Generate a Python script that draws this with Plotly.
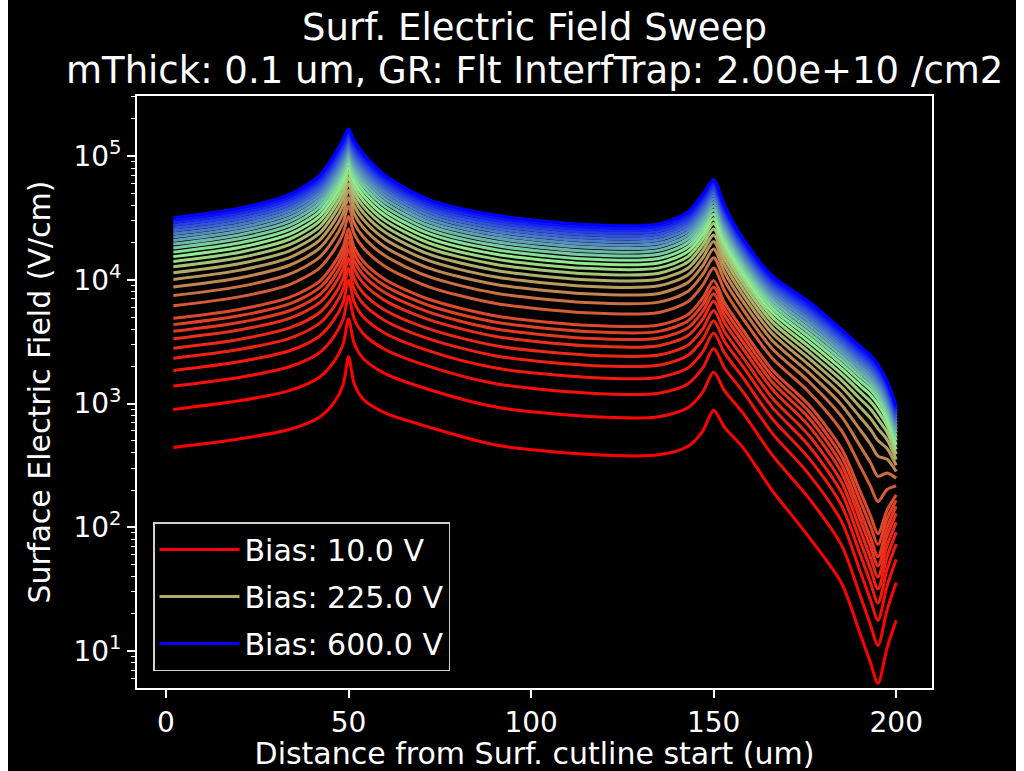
import plotly.graph_objects as go
from plotly.colors import sample_colorscale

# ---------------- data ----------------
x_um = [2, 20, 34, 42, 46, 48.5, 50, 51.5, 54, 60, 72, 90, 115, 135, 143, 147,
        150, 153, 158, 166, 176, 185, 190, 193, 195, 197.5, 200]

bias_V = [10, 20, 30, 40, 50, 60, 70, 80, 90, 100, 125, 150, 175, 200, 225, 250,
          275, 300, 325, 350, 375, 400, 425, 450, 475, 500, 525, 550, 575, 600]

E_010 = [442, 517, 619, 774, 1017, 1414, 2387, 1459, 1083, 840, 645, 464, 389, 385, 451, 597, 884, 641, 442, 198.9, 84.0, 35.4, 14.1, 7.96, 5.48, 10.6, 17.7]
E_020 = [896, 1051, 1276, 1630, 2179, 3014, 4808, 3080, 2308, 1745, 1299, 941, 788, 782, 928, 1238, 1796, 1267, 839, 384.6, 173, 71.7, 28.7, 16.1, 11.1, 21.5, 35.8]
E_030 = [1383, 1625, 1990, 2574, 3476, 4791, 7394, 4868, 3671, 2733, 1997, 1452, 1217, 1210, 1447, 1938, 2777, 1927, 1247, 577, 270, 111.6, 45.2, 25.6, 17.7, 33.6, 55.0]
E_040 = [1850, 2176, 2681, 3498, 4758, 6543, 9862, 6625, 5014, 3694, 2662, 1943, 1628, 1624, 1948, 2618, 3719, 2551, 1623, 757, 364, 150.6, 61.8, 35.3, 24.5, 45.7, 73.1]
E_050 = [2320, 2731, 3380, 4443, 6076, 8338, 12345, 8417, 6389, 4670, 3332, 2436, 2042, 2039, 2455, 3306, 4668, 3174, 1994, 935, 458, 190.7, 79.1, 45.6, 31.8, 58.0, 91.2]
E_060 = [2800, 3296, 4099, 5415, 7442, 10198, 14874, 10270, 7815, 5673, 4012, 2940, 2464, 2464, 2976, 4015, 5636, 3805, 2365, 1114, 556, 232, 97.4, 56.6, 39.6, 71.1, 109.5]
E_070 = [3330, 3923, 4892, 6497, 8961, 12261, 17662, 12324, 9397, 6783, 4765, 3497, 2930, 2934, 3550, 4802, 6707, 4500, 2773, 1312, 663, 278, 118.5, 69.3, 48.7, 85.6, 129.5]
E_080 = [3830, 4516, 5645, 7530, 10418, 14240, 20288, 14286, 10916, 7840, 5473, 4022, 3370, 3378, 4098, 5546, 7717, 5150, 3149, 1495, 766, 323, 139.0, 82.0, 57.9, 100.0, 147.8]
E_090 = [4340, 5117, 6419, 8589, 11918, 16275, 22967, 16301, 12478, 8923, 6193, 4557, 3819, 3828, 4657, 6310, 8749, 5811, 3528, 1680, 870, 376, 168.0, 101.5, 72.5, 118.0, 164.9]
E_100 = [4880, 5758, 7232, 9711, 13513, 18437, 25801, 18442, 14132, 10067, 6959, 5124, 4294, 4309, 5246, 7120, 9843, 6510, 3929, 1876, 981, 432, 199.1, 122.7, 88.6, 137.4, 182.7]
E_125 = [6163, 7272, 9189, 12418, 17380, 23666, 32516, 23598, 18144, 12819, 8770, 6471, 5423, 5448, 6662, 9060, 12437, 8154, 4858, 2333, 1246, 603, 317, 213, 161.0, 202, 216]
E_150 = [7454, 8803, 11159, 15176, 21326, 28996, 39260, 28847, 22235, 15601, 10585, 7827, 6560, 6597, 8088, 11024, 15057, 9799, 5777, 2787, 1513, 786, 459, 330, 258, 275, 249]
E_175 = [8756, 10350, 13160, 17976, 25366, 34446, 46048, 34201, 26417, 18431, 12416, 9194, 7705, 7758, 9535, 13020, 17696, 11446, 6687, 3239, 1784, 979, 619, 468, 376, 354, 282]
E_200 = [10069, 11902, 15184, 20833, 29492, 40004, 52892, 39642, 30680, 21296, 14258, 10572, 8861, 8931, 10995, 15043, 20360, 13098, 7592, 3690, 2059, 1172, 782, 614, 502, 433, 316]
E_225 = [11387, 13471, 17229, 23719, 33671, 45628, 59748, 45149, 34992, 24186, 16101, 11956, 10021, 10100, 12469, 17081, 23036, 14748, 8491, 4140, 2334, 1362, 943, 758, 627, 510, 352]
E_250 = [12714, 15041, 19287, 26636, 37900, 51326, 66660, 50716, 39363, 27106, 17965, 13350, 11188, 11290, 13960, 19135, 25720, 16406, 9389, 4590, 2614, 1547, 1098, 898, 748, 585, 388]
E_275 = [14047, 16632, 21351, 29583, 42197, 57087, 73578, 56343, 43785, 30047, 19820, 14749, 12361, 12474, 15452, 21211, 28431, 18063, 10282, 5039, 2894, 1732, 1252, 1035, 868, 660, 424]
E_300 = [15383, 18213, 23444, 32550, 46549, 62932, 80515, 62024, 48272, 33012, 21690, 16152, 13537, 13675, 16952, 23290, 31151, 19718, 11165, 5484, 3177, 1914, 1400, 1168, 983, 734, 463]
E_325 = [16727, 19805, 25542, 35562, 50934, 68815, 87482, 67761, 52790, 35997, 23568, 17563, 14720, 14870, 18467, 25392, 33872, 21380, 12052, 5931, 3461, 2091, 1539, 1288, 1087, 803, 502]
E_350 = [18072, 21415, 27632, 38566, 55355, 74746, 94444, 73535, 57342, 38999, 25445, 18976, 15903, 16066, 19988, 27506, 36614, 23038, 12931, 6376, 3745, 2259, 1663, 1392, 1175, 867, 542]
E_375 = [19421, 23014, 29753, 41619, 59836, 80714, 101436, 79335, 61934, 42008, 27325, 20392, 17090, 17285, 21518, 29636, 39347, 24696, 13805, 6819, 4032, 2428, 1787, 1495, 1262, 932, 583]
E_400 = [20777, 24621, 31872, 44691, 64346, 86765, 108456, 85207, 66569, 45045, 29212, 21816, 18284, 18492, 23062, 31768, 42115, 26358, 14677, 7264, 4320, 2597, 1911, 1600, 1351, 997, 623]
E_425 = [22137, 26254, 34025, 47772, 68890, 92865, 115489, 91116, 71237, 48104, 31102, 23244, 19481, 19702, 24594, 33914, 44872, 28019, 15549, 7706, 4609, 2767, 2037, 1705, 1439, 1063, 664]
E_450 = [23499, 27870, 36165, 50875, 73481, 98978, 122524, 97051, 75949, 51157, 32993, 24674, 20679, 20938, 26154, 36071, 47656, 29682, 16416, 8147, 4900, 2937, 2162, 1809, 1527, 1128, 705]
E_475 = [24867, 29492, 38320, 53986, 78082, 105138, 129582, 103024, 80669, 54260, 34888, 26110, 21883, 22157, 27702, 38245, 50430, 31350, 17285, 8592, 5192, 3108, 2288, 1915, 1616, 1194, 746]
E_500 = [26235, 31115, 40481, 57114, 82719, 111315, 136658, 109006, 85421, 57350, 36808, 27547, 23087, 23375, 29252, 40428, 53205, 33014, 18152, 9033, 5486, 3279, 2414, 2020, 1705, 1259, 787]
E_525 = [27605, 32767, 42650, 60262, 87370, 117570, 143739, 115030, 90213, 60427, 38702, 28985, 24292, 24596, 30835, 42594, 56011, 34675, 19012, 9474, 5778, 3451, 2540, 2126, 1794, 1325, 828]
E_550 = [28980, 34399, 44832, 63437, 92098, 123861, 150812, 121107, 95025, 63553, 40601, 30429, 25502, 25821, 32400, 44803, 58800, 36338, 19866, 9911, 6074, 3623, 2666, 2231, 1884, 1391, 869]
E_575 = [30360, 36128, 46997, 66640, 96788, 130123, 157933, 127178, 99854, 66671, 42534, 31878, 26717, 27020, 33973, 46997, 61631, 38014, 20730, 10356, 6370, 3795, 2793, 2338, 1973, 1457, 911]
E_600 = [31741, 37772, 49199, 69830, 101571, 136486, 165053, 133312, 104745, 69830, 44437, 33328, 27932, 28249, 35550, 49199, 64434, 39676, 21584, 10792, 6666, 3968, 2920, 2444, 2063, 1524, 952]

field_rows = [E_010, E_020, E_030, E_040, E_050, E_060, E_070, E_080, E_090, E_100,
              E_125, E_150, E_175, E_200, E_225, E_250, E_275, E_300, E_325, E_350,
              E_375, E_400, E_425, E_450, E_475, E_500, E_525, E_550, E_575, E_600]

legend_bias = [10, 225, 600]

y_major = [10, 100, 1000, 10000, 100000]
y_major_text = ["10<sup>1</sup>", "10<sup>2</sup>", "10<sup>3</sup>", "10<sup>4</sup>", "10<sup>5</sup>"]
x_ticks = [0, 50, 100, 150, 200]

title_line1 = "Surf. Electric Field Sweep"
title_line2 = "mThick: 0.1 um, GR: Flt InterfTrap: 2.00e+10 /cm2"

# ---------------- styling ----------------
FONT = "DejaVu Sans"
cmap = [[0.0, "rgb(255,0,0)"], [0.5, "rgb(144,238,144)"], [1.0, "rgb(0,0,255)"]]
vmin, vmax = min(bias_V), max(bias_V)
colors = sample_colorscale(cmap, [(v - vmin) / (vmax - vmin) for v in bias_V])

y_minor = [m * 10 ** k for k in range(0, 6) for m in range(2, 10)]

fig = go.Figure()
for v, e, c in zip(bias_V, field_rows, colors):
    fig.add_trace(go.Scatter(
        x=x_um, y=e, mode="lines",
        line=dict(color=c, width=3, shape="spline", smoothing=0.8),
        name=f"Bias: {v:.1f} V",
        showlegend=v in legend_bias,
        legendgroup=str(v),
        hoverinfo="skip",
    ))

# page: 8 px white strip on the left (body margin), figure 1008 px wide -> white strip on the right
OFFX = 8
W, H = 1024 - 2 * OFFX, 771
L, R, T, B = 137 - OFFX, 1016 - 932, 96, 83
pw, ph = W - L - R, H - T - B

def px_x(p):
    return (p - OFFX - L) / pw

def px_y(p):
    return (H - B - p) / ph

fig.update_layout(
    width=W, height=H,
    paper_bgcolor="black", plot_bgcolor="black",
    margin=dict(l=L, r=R, t=T, b=B, autoexpand=False),
    font=dict(family=FONT, color="white", size=28),
    title=dict(
        text=title_line1,
        font=dict(family=FONT, size=37, color="white"),
        x=0.5, xref="paper", xanchor="center",
        y=1 - 27 / H, yref="container", yanchor="middle",
    ),
    annotations=[dict(
        text=title_line2, showarrow=False,
        font=dict(family=FONT, size=37, color="white"),
        x=0.5, xref="paper", xanchor="center",
        y=px_y(70), yref="paper", yanchor="middle",
    )],
    xaxis=dict(
        range=[-7.95, 209.8],
        tickvals=x_ticks,
        ticks="outside", ticklen=8, tickwidth=1.8, tickcolor="white",
        showline=True, linecolor="white", linewidth=1.8, mirror=True,
        showgrid=False, zeroline=False,
        tickfont=dict(family=FONT, size=28, color="white"),
        title=dict(text="Distance from Surf. cutline start (um)",
                   font=dict(family=FONT, size=30, color="white"), standoff=6),
    ),
    yaxis=dict(
        type="log",
        range=[0.701, 5.485],
        tickvals=y_major, ticktext=y_major_text,
        ticks="outside", ticklen=8, tickwidth=1.8, tickcolor="white",
        minor=dict(tickvals=y_minor, ticks="outside", ticklen=4.5, tickwidth=1.3, tickcolor="white"),
        showline=True, linecolor="white", linewidth=1.8, mirror=True,
        showgrid=False, zeroline=False,
        tickfont=dict(family=FONT, size=28, color="white"),
        title=dict(text="Surface Electric Field (V/cm)",
                   font=dict(family=FONT, size=30, color="white"), standoff=14),
    ),
    legend=dict(
        x=px_x(153), y=px_y(671), xanchor="left", yanchor="bottom",
        bgcolor="black", bordercolor="#cfcfcf", borderwidth=1.5,
        font=dict(family=FONT, size=30, color="white"),
        tracegroupgap=5, itemwidth=80,
    ),
)

fig.write_html(
    "out.html",
    config={"displayModeBar": False},
    post_script="document.body.style.margin='0px 0px 0px %dpx'; document.body.style.background='white';" % OFFX,
)
